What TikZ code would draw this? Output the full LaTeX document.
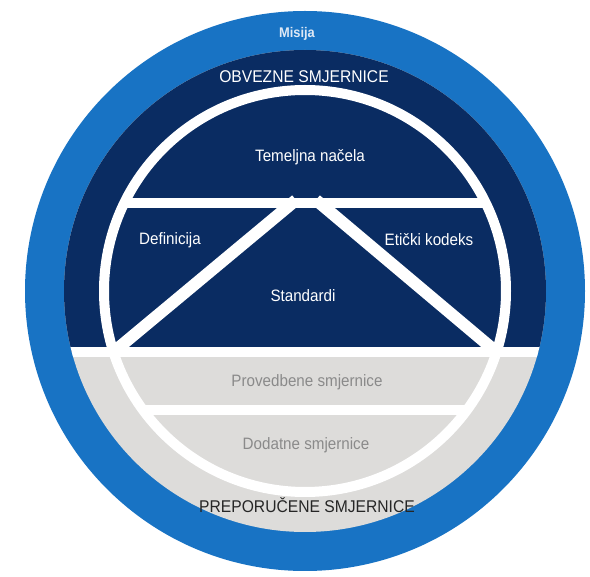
\documentclass[tikz,border=0pt]{standalone}
\usepackage{fontspec}
\setmainfont[FakeStretch=0.92]{Liberation Sans}
\definecolor{ringblue}{RGB}{24,115,196}
\definecolor{navy}{RGB}{10,44,98}
\definecolor{lgray}{RGB}{221,220,218}
\definecolor{tgray}{RGB}{138,138,138}
\definecolor{misijatxt}{RGB}{222,232,245}
\tikzset{
  lbl/.style={inner sep=0pt, text=white, font=\fontsize{16.5}{18}\selectfont},
  caps/.style={inner sep=0pt, font=\fontsize{17}{19}\selectfont},
  whiteline/.style={white, line width=10pt},
}
\begin{document}
\begin{tikzpicture}[x=1pt,y=-1pt]
\useasboundingbox (0,0) rectangle (590,577);
\fill[white] (0,0) rectangle (590,577);
\coordinate (C) at (305,291);
\fill[ringblue] (C) circle (280pt);
\begin{scope}
  \clip (C) circle (241pt);
  \fill[lgray] (0,0) rectangle (590,577);
  \fill[navy] (0,0) rectangle (590,352);
  \draw[whiteline] (0,352) -- (590,352);
\end{scope}
\begin{scope}
  \clip (C) circle (201pt);
  \draw[whiteline] (0,203) -- (590,203);
  \draw[whiteline] (0,410) -- (590,410);
  \draw[white, line width=12pt] (113.5,352) -- (296,200);
  \draw[white, line width=12pt] (496.5,352) -- (316,200);
\end{scope}
\draw[whiteline] (C) circle (201pt);
\node[inner sep=0pt, text=misijatxt, font=\fontsize{14}{16}\selectfont\bfseries] (misija) at (297,34) {Misija};
\node[caps, text=white] (obvezne) at (304,77) {OBVEZNE SMJERNICE};
\node[lbl] (temeljna) at (310,157) {Temeljna načela};
\node[lbl] (definicija) at (170,240) {Definicija};
\node[lbl] (eticki) at (429,240) {Etički kodeks};
\node[lbl] (standardi) at (303,296) {Standardi};
\node[lbl, text=tgray] (provedbene) at (307,382) {Provedbene smjernice};
\node[lbl, text=tgray] (dodatne) at (306,445) {Dodatne smjernice};
\node[caps, text=black!85] (preporucene) at (307,505) {PREPORUČENE SMJERNICE};
\end{tikzpicture}
\end{document}
